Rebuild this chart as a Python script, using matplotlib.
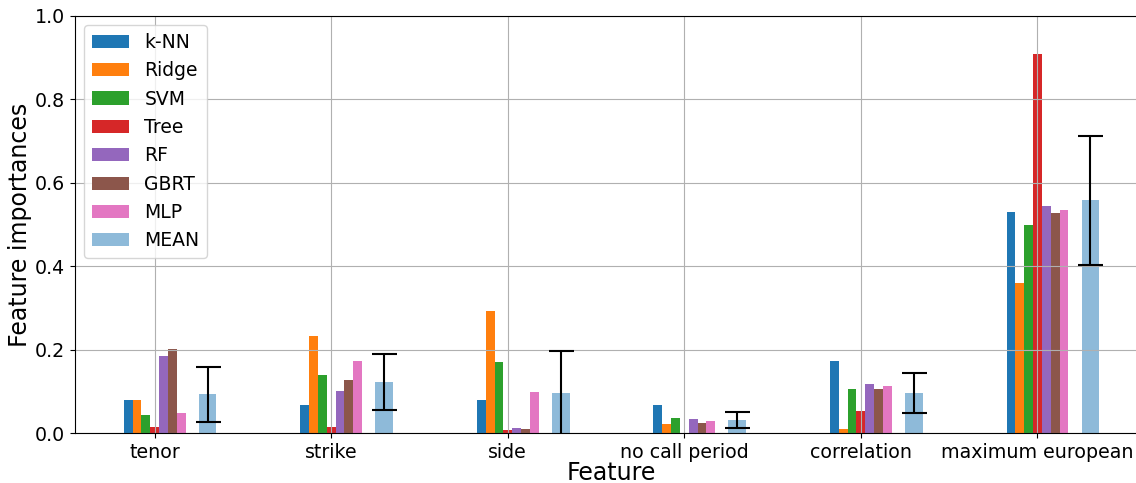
import numpy as np
import matplotlib
matplotlib.use("Agg")
import matplotlib.pyplot as plt

# values
features = ["tenor", "strike", "side", "no call period", "correlation", "maximum european"]
models = ["k-NN", "Ridge", "SVM", "Tree", "RF", "GBRT", "MLP"]

knn = [0.080, 0.068, 0.080, 0.068, 0.173, 0.530]
ridge = [0.080, 0.233, 0.293, 0.022, 0.010, 0.360]
svm = [0.044, 0.140, 0.171, 0.037, 0.106, 0.499]
tree = [0.014, 0.015, 0.008, 0.001, 0.053, 0.909]
rf = [0.185, 0.101, 0.013, 0.034, 0.118, 0.545]
gbrt = [0.202, 0.128, 0.010, 0.025, 0.106, 0.528]
mlp = [0.049, 0.173, 0.099, 0.030, 0.113, 0.535]

mean_imp = [0.093, 0.123, 0.097, 0.031, 0.097, 0.558]
std_imp = [0.067, 0.066, 0.100, 0.019, 0.048, 0.155]

series = [knn, ridge, svm, tree, rf, gbrt, mlp]
colors = ["tab:blue", "tab:orange", "tab:green", "tab:red",
          "tab:purple", "tab:brown", "tab:pink"]

x = np.arange(len(features))
w = 0.05

fig = plt.figure(figsize=(11.36, 4.83), dpi=100)
ax = fig.add_axes([75 / 1136, 0.1029, 1073 / 1136, 0.864])

for i, (vals, c, name) in enumerate(zip(series, colors, models)):
    ax.bar(x + (i - 3) * w, vals, w, color=c, label=name)
ax.bar(x + 0.3, mean_imp, 2 * w, yerr=std_imp, color="tab:blue", alpha=0.5,
       label="MEAN", capsize=9, error_kw=dict(ecolor="black", elinewidth=1.5,
                                               capthick=1.5))

ax.set_ylim(0, 1.0)
ax.set_xticks(x)
ax.set_xticklabels(features)
ax.tick_params(labelsize=13.7)
ax.set_xlabel("Feature", fontsize=17, labelpad=-1)
ax.set_ylabel("Feature importances", fontsize=17, labelpad=2)
ax.grid(True)
ax.legend(loc="upper left", fontsize=13.5)

fig.savefig("out.png", dpi=100)
plt.close(fig)
